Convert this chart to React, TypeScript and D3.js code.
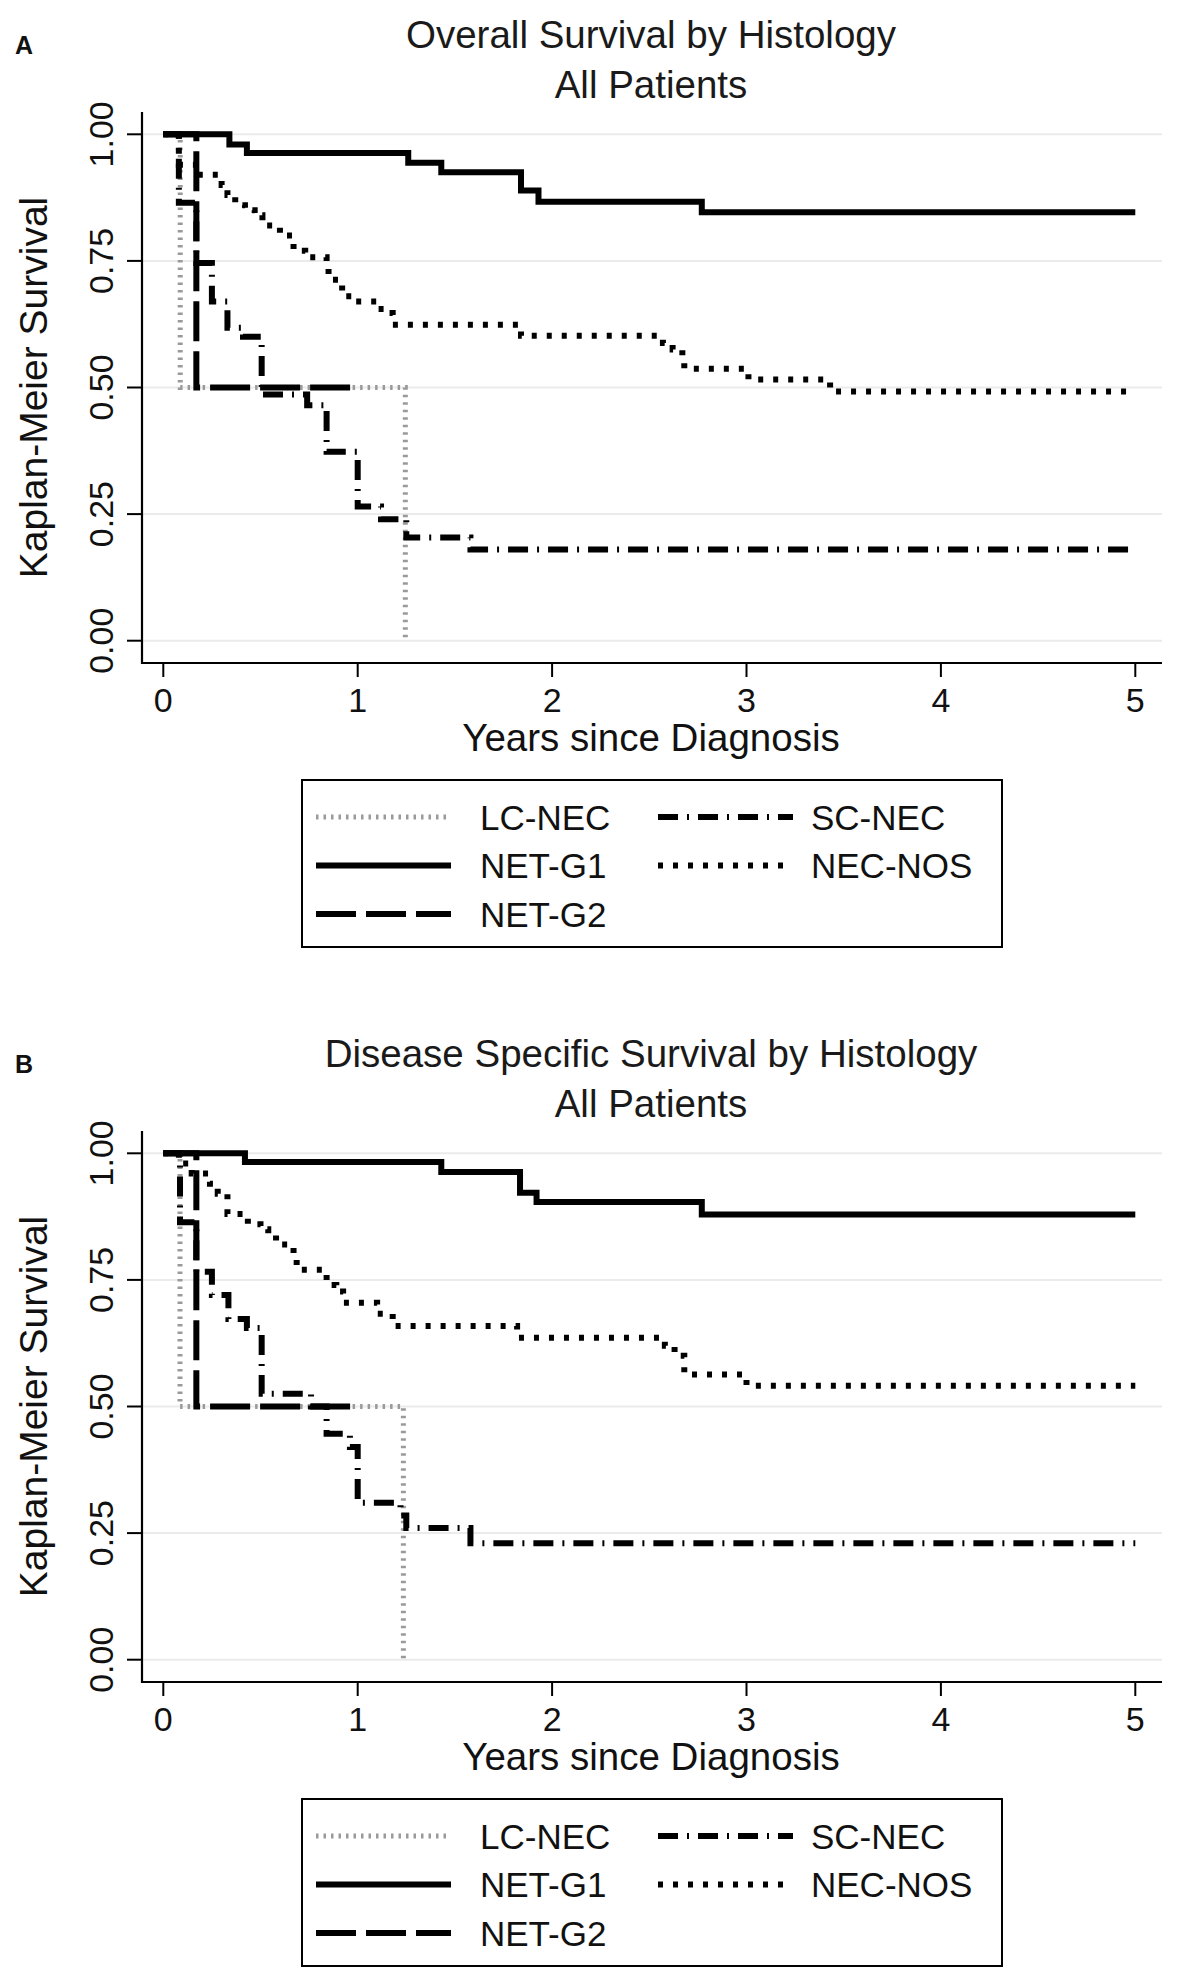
import React from "react";
import * as d3 from "d3";

type Pt = [number, number];

// ---- data (years, KM survival) ----
const seriesNames = ["LC-NEC", "NET-G1", "NET-G2", "SC-NEC", "NEC-NOS"];
const xTicks = [0, 1, 2, 3, 4, 5];
const yTicks = [0, 0.25, 0.5, 0.75, 1];

// A: overall survival
const osLcNec: Pt[] = [[0, 1], [0.087, 0.5], [1.245, 0]];
const osNetG1: Pt[] = [[0, 1], [0.34, 0.98], [0.43, 0.963], [1.26, 0.944], [1.43, 0.925], [1.84, 0.889], [1.93, 0.867], [2.77, 0.846], [5, 0.846]];
const osNetG2: Pt[] = [[0, 1], [0.17, 0.5], [1.01, 0.5]];
const osScNec: Pt[] = [[0, 1], [0.08, 0.865], [0.17, 0.746], [0.25, 0.67], [0.33, 0.618], [0.41, 0.6], [0.506, 0.486], [0.74, 0.465], [0.84, 0.373], [1.0, 0.265], [1.12, 0.24], [1.25, 0.204], [1.58, 0.18], [5, 0.18]];
const osNecNos: Pt[] = [[0, 1], [0.08, 0.94], [0.18, 0.92], [0.3, 0.9], [0.33, 0.88], [0.37, 0.86], [0.42, 0.85], [0.47, 0.84], [0.51, 0.82], [0.6, 0.8], [0.67, 0.77], [0.73, 0.757], [0.84, 0.74], [0.85, 0.713], [0.92, 0.68], [0.97, 0.67], [1.1, 0.655], [1.15, 0.647], [1.18, 0.624], [1.84, 0.602], [2.57, 0.588], [2.62, 0.575], [2.67, 0.56], [2.68, 0.537], [3.01, 0.516], [3.43, 0.492], [5, 0.492]];

// B: disease specific survival
const dssLcNec: Pt[] = [[0, 1], [0.086, 0.5], [1.235, 0]];
const dssNetG1: Pt[] = [[0, 1], [0.42, 0.983], [1.43, 0.963], [1.835, 0.922], [1.92, 0.904], [2.77, 0.879], [5, 0.879]];
const dssNetG2: Pt[] = [[0, 1], [0.17, 0.5], [1.01, 0.5]];
const dssScNec: Pt[] = [[0, 1], [0.086, 0.864], [0.17, 0.766], [0.25, 0.72], [0.335, 0.673], [0.43, 0.655], [0.506, 0.525], [0.76, 0.5], [0.84, 0.446], [0.96, 0.42], [1.0, 0.31], [1.22, 0.285], [1.25, 0.26], [1.58, 0.23], [5, 0.23]];
const dssNecNos: Pt[] = [[0, 1], [0.08, 0.98], [0.146, 0.96], [0.24, 0.94], [0.28, 0.92], [0.33, 0.88], [0.435, 0.86], [0.5, 0.85], [0.54, 0.84], [0.58, 0.82], [0.67, 0.8], [0.686, 0.77], [0.84, 0.74], [0.89, 0.727], [0.925, 0.705], [1.1, 0.683], [1.18, 0.659], [1.82, 0.636], [2.58, 0.62], [2.63, 0.6], [2.68, 0.563], [3.0, 0.541], [5, 0.541]];

const panelA = [osLcNec, osNetG1, osNetG2, osScNec, osNecNos];
const panelB = [dssLcNec, dssNetG1, dssNetG2, dssScNec, dssNecNos];

// ---- styles ----
const FONT = "'Liberation Sans', Arial, Helvetica, sans-serif";
const styles: Record<string, { stroke: string; dash: string; width: number }> = {
  "LC-NEC": { stroke: "#9a9a9a", dash: "2.5,5", width: 5 },
  "NET-G1": { stroke: "#000", dash: "none", width: 6 },
  "NET-G2": { stroke: "#000", dash: "40,10", width: 6 },
  "SC-NEC": { stroke: "#000", dash: "20,9,2,9", width: 6 },
  "NEC-NOS": { stroke: "#000", dash: "5,10", width: 6 },
};

const W = 1181;
const H = 1975;
const axisX = 142;
const axisRight = 1162;
const axisTop = 112;
const axisBottom = 663;

const x = d3.scaleLinear().domain([0, 5]).range([163.3, 1135.3]);
const y = d3.scaleLinear().domain([0, 1]).range([640.7, 134.3]);

const stepLine = d3
  .line<Pt>()
  .x((d) => x(d[0]))
  .y((d) => y(d[1]))
  .curve(d3.curveStepAfter);

const legendCols = [
  ["LC-NEC", "NET-G1", "NET-G2"],
  ["SC-NEC", "NEC-NOS"],
];

function Panel({ dy, letter, title, series }: { dy: number; letter: string; title: string[]; series: Pt[][] }) {
  return (
    <g transform={`translate(0,${dy})`} fontFamily={FONT} fill="#111">
      <text x={15} y={54} fontSize={25} fontWeight="bold">{letter}</text>
      {title.map((t, i) => (
        <text key={i} x={651} y={48 + i * 50} fontSize={38.5} textAnchor="middle" fill="#1a1a1a">{t}</text>
      ))}

      {/* grid */}
      {yTicks.map((v) => (
        <line key={"g" + v} x1={axisX} x2={axisRight} y1={y(v)} y2={y(v)} stroke="#ebebeb" strokeWidth={2} />
      ))}

      {/* curves */}
      {series.map((pts, i) => {
        const st = styles[seriesNames[i]];
        return (
          <path key={seriesNames[i]} d={stepLine(pts) || ""} fill="none" stroke={st.stroke}
            strokeWidth={st.width} strokeDasharray={st.dash} strokeLinecap="butt" strokeLinejoin="miter" />
        );
      })}

      {/* axes */}
      <line x1={axisX} x2={axisX} y1={axisTop} y2={axisBottom + 1} stroke="#000" strokeWidth={2.2} />
      <line x1={axisX - 1} x2={axisRight} y1={axisBottom} y2={axisBottom} stroke="#000" strokeWidth={2.2} />
      {yTicks.map((v) => (
        <g key={"y" + v}>
          <line x1={axisX - 15} x2={axisX} y1={y(v)} y2={y(v)} stroke="#000" strokeWidth={2} />
          <text transform={`translate(${113},${y(v)}) rotate(-90)`} fontSize={34} textAnchor="middle">
            {d3.format(".2f")(v)}
          </text>
        </g>
      ))}
      {xTicks.map((v) => (
        <g key={"x" + v}>
          <line x1={x(v)} x2={x(v)} y1={axisBottom} y2={axisBottom + 14} stroke="#000" strokeWidth={2} />
          <text x={x(v)} y={712} fontSize={34} textAnchor="middle">{v}</text>
        </g>
      ))}
      <text transform={`translate(47,${(axisTop + axisBottom) / 2}) rotate(-90)`} fontSize={39} textAnchor="middle">
        Kaplan-Meier Survival
      </text>
      <text x={651} y={751} fontSize={38.5} textAnchor="middle">Years since Diagnosis</text>

      {/* legend */}
      <rect x={302} y={780} width={700} height={167} fill="none" stroke="#000" strokeWidth={2} />
      {legendCols.map((col, ci) =>
        col.map((name, ri) => {
          const st = styles[name];
          const cy = 817 + ri * 48.5;
          const sx = ci === 0 ? 316 : 658;
          return (
            <g key={name}>
              <line x1={sx} x2={sx + 135} y1={cy} y2={cy} stroke={st.stroke} strokeWidth={st.width}
                strokeDasharray={st.dash} />
              <text x={ci === 0 ? 480 : 811} y={cy + 12.5} fontSize={35}>{name}</text>
            </g>
          );
        })
      )}
    </g>
  );
}

export default function App() {
  return (
    <svg width={W} height={H} viewBox={`0 0 ${W} ${H}`}
      style={{ position: "absolute", left: 0, top: 0, background: "#fff" }}>
      <rect width={W} height={H} fill="#fff" />
      <Panel dy={0} letter="A" title={["Overall Survival by Histology", "All Patients"]} series={panelA} />
      <Panel dy={1019} letter="B" title={["Disease Specific Survival by Histology", "All Patients"]} series={panelB} />
    </svg>
  );
}
